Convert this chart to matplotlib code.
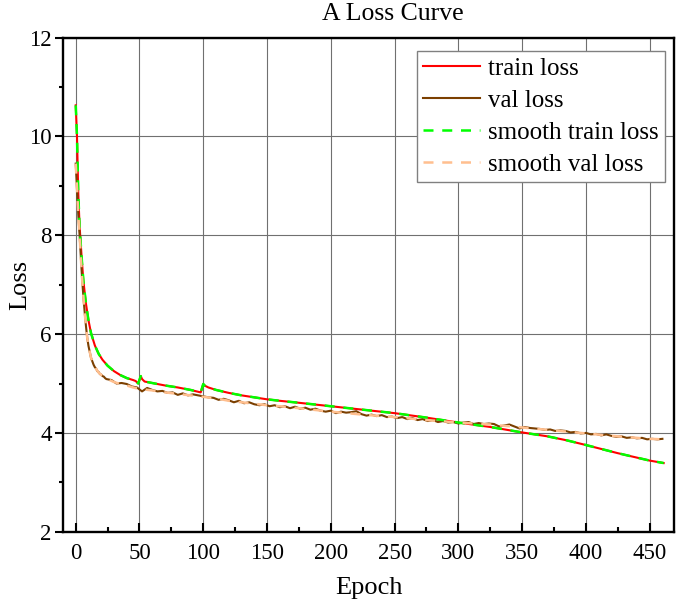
import numpy as np
import matplotlib
matplotlib.use("Agg")
import matplotlib.pyplot as plt
from matplotlib.ticker import MultipleLocator

plt.rcParams["font.family"] = ["Liberation Serif", "DejaVu Serif"]

# train loss, smooth train sits right on top of it
train_epoch = [0, 1, 2, 3, 4, 5, 6, 8, 10, 12,
               15, 18, 21, 25, 30, 35, 40, 45, 47, 49,
               51, 52, 54, 60, 70, 80, 90, 98, 100, 101,
               104, 110, 120, 130, 140, 150, 160, 175, 200, 225,
               250, 275, 300, 325, 350, 370, 385, 400, 425, 450,
               461]
train_loss = [10.63, 10.0, 8.85, 8.2, 7.8, 7.42, 7.08, 6.62, 6.28, 6.02,
              5.77, 5.6, 5.48, 5.36, 5.25, 5.17, 5.11, 5.07, 5.05, 5.0,
              5.15, 5.09, 5.04, 5.01, 4.96, 4.92, 4.87, 4.82, 4.99, 4.96,
              4.92, 4.87, 4.81, 4.76, 4.72, 4.68, 4.65, 4.61, 4.54, 4.47,
              4.40, 4.31, 4.21, 4.12, 4.01, 3.93, 3.85, 3.755, 3.59, 3.44,
              3.39]
smooth_train_loss = train_loss

# val loss: every epoch at the start, then every 4 epochs
val_epoch = np.concatenate([np.arange(0, 24), np.arange(24, 461, 4)])
val_loss = [9.45, 8.95, 8.42, 8.02, 7.55, 7.12, 6.76, 6.45, 6.17, 5.93,
            5.76, 5.64, 5.52, 5.45, 5.38, 5.33, 5.30, 5.25, 5.23, 5.19,
            5.18, 5.15, 5.14, 5.11,
            5.09, 5.07, 5.00, 5.01, 4.99, 4.94, 4.92, 4.84, 4.91, 4.87,
            4.84, 4.85, 4.81, 4.82, 4.77, 4.80, 4.76, 4.78, 4.76, 4.74,
            4.72, 4.71, 4.67, 4.69, 4.66, 4.62, 4.65, 4.60, 4.62, 4.58,
            4.56, 4.58, 4.54, 4.56, 4.52, 4.54, 4.50, 4.53, 4.49, 4.51,
            4.47, 4.49, 4.45, 4.43, 4.45, 4.40, 4.43, 4.41, 4.42, 4.44,
            4.38, 4.35, 4.37, 4.34, 4.36, 4.32, 4.33, 4.30, 4.32, 4.28,
            4.30, 4.26, 4.28, 4.24, 4.26, 4.22, 4.24, 4.21, 4.22, 4.19,
            4.21, 4.22, 4.18, 4.20, 4.18, 4.19, 4.18, 4.13, 4.15, 4.17,
            4.13, 4.09, 4.12, 4.10, 4.09, 4.08, 4.06, 4.07, 4.04, 4.05,
            4.04, 4.01, 4.02, 3.99, 4.00, 3.97, 3.98, 3.95, 3.97, 3.94,
            3.92, 3.93, 3.90, 3.91, 3.89, 3.90, 3.87, 3.88, 3.87, 3.88]

smooth_val_epoch = [0, 1, 2, 3, 4, 5, 6, 7, 8, 9, 10,
                    12, 15, 18, 21, 24, 30, 35, 40, 45, 50,
                    60, 70, 80, 90, 100, 110, 120, 130, 140, 150, 160,
                    175, 200, 225, 250, 275, 300, 325, 350, 375, 400, 425, 450, 461]
smooth_val_loss = [9.45, 8.95, 8.42, 8.02, 7.55, 7.12, 6.76, 6.45, 6.17, 5.93, 5.76,
                   5.52, 5.33, 5.22, 5.15, 5.10, 5.03, 4.99, 4.96, 4.92, 4.89,
                   4.86, 4.82, 4.79, 4.76, 4.73, 4.70, 4.65, 4.62, 4.59, 4.56, 4.54,
                   4.50, 4.43, 4.37, 4.32, 4.26, 4.21, 4.17, 4.11, 4.05, 3.99, 3.93, 3.88, 3.87]


def main():
    fig = plt.figure(figsize=(6.8, 6.07), dpi=100)
    ax = fig.add_axes([0.0926, 0.124, 0.8984, 0.814])

    ax.plot(train_epoch, train_loss, color="#ff0000", lw=1.5, label="train loss")
    ax.plot(val_epoch, val_loss, color="#7b3f00", lw=1.5, label="val loss")
    ax.plot(train_epoch, smooth_train_loss, color="#00ff00", lw=1.8, dashes=(4, 3.5),
            label="smooth train loss")
    ax.plot(smooth_val_epoch, smooth_val_loss, color="#ffbf8f", lw=1.8, dashes=(4, 3.5),
            label="smooth val loss")

    ax.set_xlim(-10, 469)
    ax.set_ylim(2, 12)
    ax.xaxis.set_major_locator(MultipleLocator(50))
    ax.xaxis.set_minor_locator(MultipleLocator(25))
    ax.yaxis.set_major_locator(MultipleLocator(2))
    ax.yaxis.set_minor_locator(MultipleLocator(1))

    ax.grid(True, which="major", color="#707070", lw=0.8)
    ax.set_axisbelow(True)
    for s in ax.spines.values():
        s.set_linewidth(1.7)

    ax.tick_params(axis="x", which="major", direction="in", length=6.5, width=1.5,
                   labelsize=16.5, pad=8)
    ax.tick_params(axis="x", which="minor", direction="in", length=3.5, width=1.5)
    ax.tick_params(axis="y", which="major", direction="out", length=6, width=1.5,
                   labelsize=16.5, pad=2)
    ax.tick_params(axis="y", which="minor", direction="out", length=3, width=1.5)

    leg = ax.legend(loc="upper right", bbox_to_anchor=(0.985, 0.972), borderaxespad=0,
                    fontsize=18, handlelength=2.3, handletextpad=0.3,
                    labelspacing=0.38, borderpad=0.25, fancybox=False, framealpha=1)
    leg.get_frame().set_edgecolor("#808080")
    leg.get_frame().set_linewidth(1)

    fig.text(393 / 680, 1 - 14 / 607, "A Loss Curve", fontsize=18.5, ha="center", va="center")
    fig.text(20 / 680, 1 - 285 / 607, "Loss", fontsize=19, rotation=90, ha="center", va="center")
    fig.text(369 / 680, 1 - 588 / 607, "Epoch", fontsize=19, ha="center", va="center")

    fig.savefig("out.png", dpi=100)


if __name__ == "__main__":
    main()
